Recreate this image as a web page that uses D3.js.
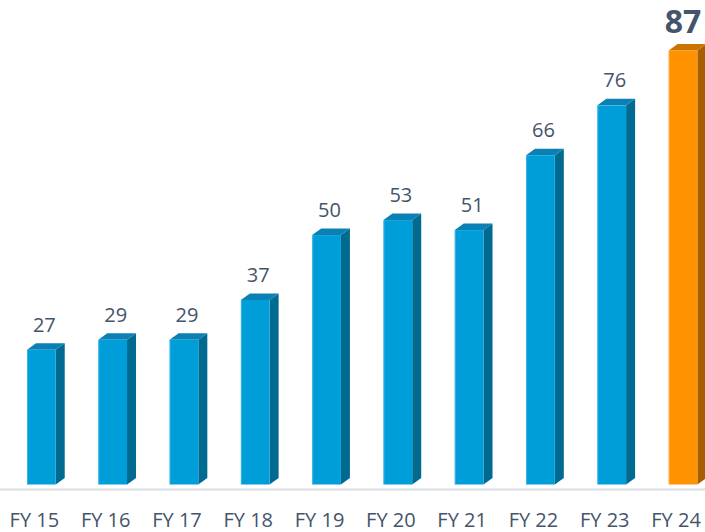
<!DOCTYPE html>
<html>
<head>
<meta charset="utf-8">
<script src="https://cdn.jsdelivr.net/npm/d3@7"></script>
<style>
  html, body { margin: 0; padding: 0; background: #fff; }
  svg { display: block; }
  text { font-family: "Open Sans", "Noto Sans", sans-serif; fill: #44546a; }
</style>
</head>
<body>
<svg id="chart" width="705" height="532"></svg>
<script>
// Fiscal years and values
const categories = ["FY 15", "FY 16", "FY 17", "FY 18", "FY 19", "FY 20", "FY 21", "FY 22", "FY 23", "FY 24"];
const values = [27, 29, 29, 37, 50, 53, 51, 66, 76, 87];
const highlightIndex = 9;

const W = 705, H = 532;
const svg = d3.select("#chart");

const x = d3.scaleBand()
  .domain(categories)
  .range([27, 697.4])
  .paddingInner(0.597)
  .paddingOuter(0);

const y = d3.scaleLinear().domain([0, 87]).range([484.5, 50.5]);

const depthX = 9, depthY = 6.5;

const palette = {
  normal: { front: "#009ed9", side: "#006a91", top: "#0a80b4", edge: "#5cc3ea" },
  highlight: { front: "#ff9200", side: "#a65f00", top: "#cc7400", edge: "#ffbf66" }
};

// baseline
svg.append("line")
  .attr("x1", 0).attr("x2", W)
  .attr("y1", 489.5).attr("y2", 489.5)
  .attr("stroke", "#d9dde3").attr("stroke-width", 2);

const data = categories.map((c, i) => ({ c, v: values[i], hi: i === highlightIndex }));

const bars = svg.append("g").selectAll("g").data(data).join("g");

bars.each(function(d) {
  const g = d3.select(this);
  const col = d.hi ? palette.highlight : palette.normal;
  const x0 = x(d.c), w = x.bandwidth();
  const yt = y(d.v), yb = y(0);
  // right side face
  g.append("path")
    .attr("d", `M${x0 + w},${yt} L${x0 + w + depthX},${yt - depthY} L${x0 + w + depthX},${yb - depthY} L${x0 + w},${yb} Z`)
    .attr("fill", col.side);
  // top face
  g.append("path")
    .attr("d", `M${x0},${yt} L${x0 + depthX},${yt - depthY} L${x0 + w + depthX},${yt - depthY} L${x0 + w},${yt} Z`)
    .attr("fill", col.top);
  // front face
  g.append("rect")
    .attr("x", x0).attr("y", yt)
    .attr("width", w).attr("height", yb - yt)
    .attr("fill", col.front);
  g.append("line")
    .attr("x1", x0 + 0.5).attr("x2", x0 + 0.5)
    .attr("y1", yt).attr("y2", yb)
    .attr("stroke", col.edge).attr("stroke-width", 1).attr("opacity", 0.6);
});

// value labels
svg.append("g").selectAll("text").data(data).join("text")
  .attr("x", d => x(d.c) + x.bandwidth() / 2 + (d.hi ? 0 : 3))
  .attr("y", d => y(d.v) - 18)
  .attr("text-anchor", "middle")
  .style("font-size", d => d.hi ? "32px" : "20px")
  .style("font-weight", d => d.hi ? 700 : 400)
  .text(d => d.v);

// category axis labels
const xAxis = d3.axisBottom(x).tickSize(0).tickPadding(0);
const axisG = svg.append("g").attr("transform", "translate(-7,0)").call(xAxis);
axisG.select(".domain").remove();
axisG.selectAll("text")
  .attr("y", 527)
  .attr("dy", null)
  .style("font-size", "20px")
  .style("font-family", "'Open Sans', 'Noto Sans', sans-serif")
  .attr("fill", "#44546a");
</script>
</body>
</html>
